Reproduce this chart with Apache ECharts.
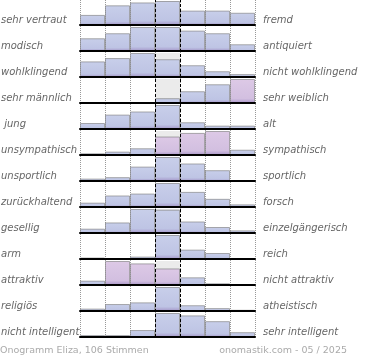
<!DOCTYPE html>
<html><head><meta charset="utf-8">
<script src="https://cdn.jsdelivr.net/npm/echarts@6/dist/echarts.min.js"></script>
<style>html,body{margin:0;padding:0;background:#fff}#c{width:370px;height:360px}</style>
</head><body><div id="c"></div>
<script>
const leftLabels = ['sehr vertraut','modisch','wohlklingend','sehr männlich',' jung','unsympathisch','unsportlich','zurückhaltend','gesellig','arm','attraktiv','religiös','nicht intelligent'];
const rightLabels = ['fremd','antiquiert','nicht wohlklingend','sehr weiblich','alt','sympathisch','sportlich','forsch','einzelgängerisch','reich','nicht attraktiv','atheistisch','sehr intelligent'];
const columns = ['1','2','3','4','5','6','7'];
const vertraut = [42, 82, 94, 100, 60, 60, 51];
const modisch = [53, 74, 100, 100, 85, 74, 28];
const wohlklingend = [65, 79, 100, 74, 49, 24, 12];
const maennlich = [0, 0, 0, 20, 49, 78, 100];
const jung = [25, 60, 73, 100, 28, 14, 14];
const unsympathisch = [7, 14, 28, 77, 92, 100, 22];
const unsportlich = [10, 16, 60, 100, 73, 45, 0];
const zurueckhaltend = [18, 48, 56, 100, 63, 34, 11];
const gesellig = [18, 44, 100, 97, 48, 25, 11];
const arm = [6, 0, 10, 100, 39, 25, 0];
const attraktiv = [18, 100, 90, 69, 32, 7, 0];
const religioes = [10, 29, 36, 100, 24, 12, 5];
const intelligent = [8, 8, 29, 100, 90, 66, 20];
const rows = [vertraut, modisch, wohlklingend, maennlich, jung, unsympathisch, unsportlich, zurueckhaltend, gesellig, arm, attraktiv, religioes, intelligent];
const pinkCells = [[3,6],[5,3],[5,4],[5,5],[10,1],[10,2],[10,3]];

const chart = echarts.init(document.getElementById('c'), null, {renderer:'canvas'});
const FONT = 'DejaVu Sans';
const blue = new echarts.graphic.LinearGradient(0,0,0,1,[{offset:0,color:'#c8cfea'},{offset:0.82,color:'#bec4e4'},{offset:1,color:'#a496c8'}]);
const pink = new echarts.graphic.LinearGradient(0,0,0,1,[{offset:0,color:'#ddc9e6'},{offset:0.82,color:'#d2bfe0'},{offset:1,color:'#a996c8'}]);
const isPink = (r,c) => pinkCells.some(p => p[0]===r && p[1]===c);

const grid = [], xAxis = [], yAxis = [], series = [];
rows.forEach((vals, r) => {
  const mx = Math.max(...vals);
  grid.push({left:80, width:175, top:26*r+1, height:24, outerBoundsMode:'none'});
  xAxis.push({type:'category', gridIndex:r, data:columns, z:5,
    axisLine:{show:true, lineStyle:{color:'#000', width:2}},
    axisTick:{show:false}, axisLabel:{show:false}, splitLine:{show:false}});
  yAxis.push({type:'value', gridIndex:r, min:0, max:mx, show:false, splitLine:{show:false}});
  series.push({type:'bar', xAxisIndex:r, yAxisIndex:r, barWidth:'100%', barGap:'-100%', z:1, silent:true,
    itemStyle:{color:'#ebebeb'},
    data: vals.map((v,c) => c===3 ? mx : null)});
  series.push({type:'bar', xAxisIndex:r, yAxisIndex:r, barWidth:'100%', barGap:'-100%', z:2, silent:true,
    data: vals.map((v,c) => ({value:v, itemStyle:{color: isPink(r,c)?pink:blue, borderColor:'rgba(120,120,120,0.6)', borderWidth:1}}))});
});
// line overlay grid
const L = rows.length;
grid.push({left:80, width:175, top:0, height:337, outerBoundsMode:'none'});
xAxis.push({type:'value', gridIndex:L, min:0, max:7, interval:1, z:0,
  axisLine:{show:false}, axisTick:{show:false}, axisLabel:{show:false},
  splitLine:{show:true, lineStyle:{color:'#999', type:[1,1], width:1}}});
yAxis.push({type:'value', gridIndex:L, min:0, max:1, show:false, splitLine:{show:false}});
series.push({type:'line', xAxisIndex:L, yAxisIndex:L, data:[], z:20, silent:true,
  markLine:{silent:true, symbol:'none', label:{show:false}, z:20,
    lineStyle:{color:'#000', type:[3,2], width:1},
    data:[{xAxis:3},{xAxis:4}]}});
// label grid
const M = L+1;
const lblStyle = {fontStyle:'italic', fontSize:10, color:'#666', fontFamily:FONT};
grid.push({left:80, width:175, top:7, height:338, containLabel:false, outerBoundsMode:'none'});
xAxis.push({type:'value', gridIndex:M, show:false, splitLine:{show:false}});
yAxis.push({type:'category', gridIndex:M, inverse:true, position:'left', data:leftLabels,
  axisLine:{show:false}, axisTick:{show:false}, splitLine:{show:false},
  axisLabel:Object.assign({align:'left', margin:79}, lblStyle)});
yAxis.push({type:'category', gridIndex:M, inverse:true, position:'right', data:rightLabels,
  axisLine:{show:false}, axisTick:{show:false}, splitLine:{show:false},
  axisLabel:Object.assign({align:'left', margin:8}, lblStyle)});

chart.setOption({
  animation:false,
  backgroundColor:'#fff',
  title:[
    {text:'Onogramm Eliza, 106 Stimmen', left:0, top:346, padding:0,
     textStyle:{fontSize:9.5, color:'#aaa', fontWeight:'normal', fontFamily:FONT}},
    {text:'onomastik.com - 05 / 2025', right:23, top:346, padding:0,
     textStyle:{fontSize:9.5, color:'#aaa', fontWeight:'normal', fontFamily:FONT}}
  ],
  grid, xAxis, yAxis, series
});
</script></body></html>
